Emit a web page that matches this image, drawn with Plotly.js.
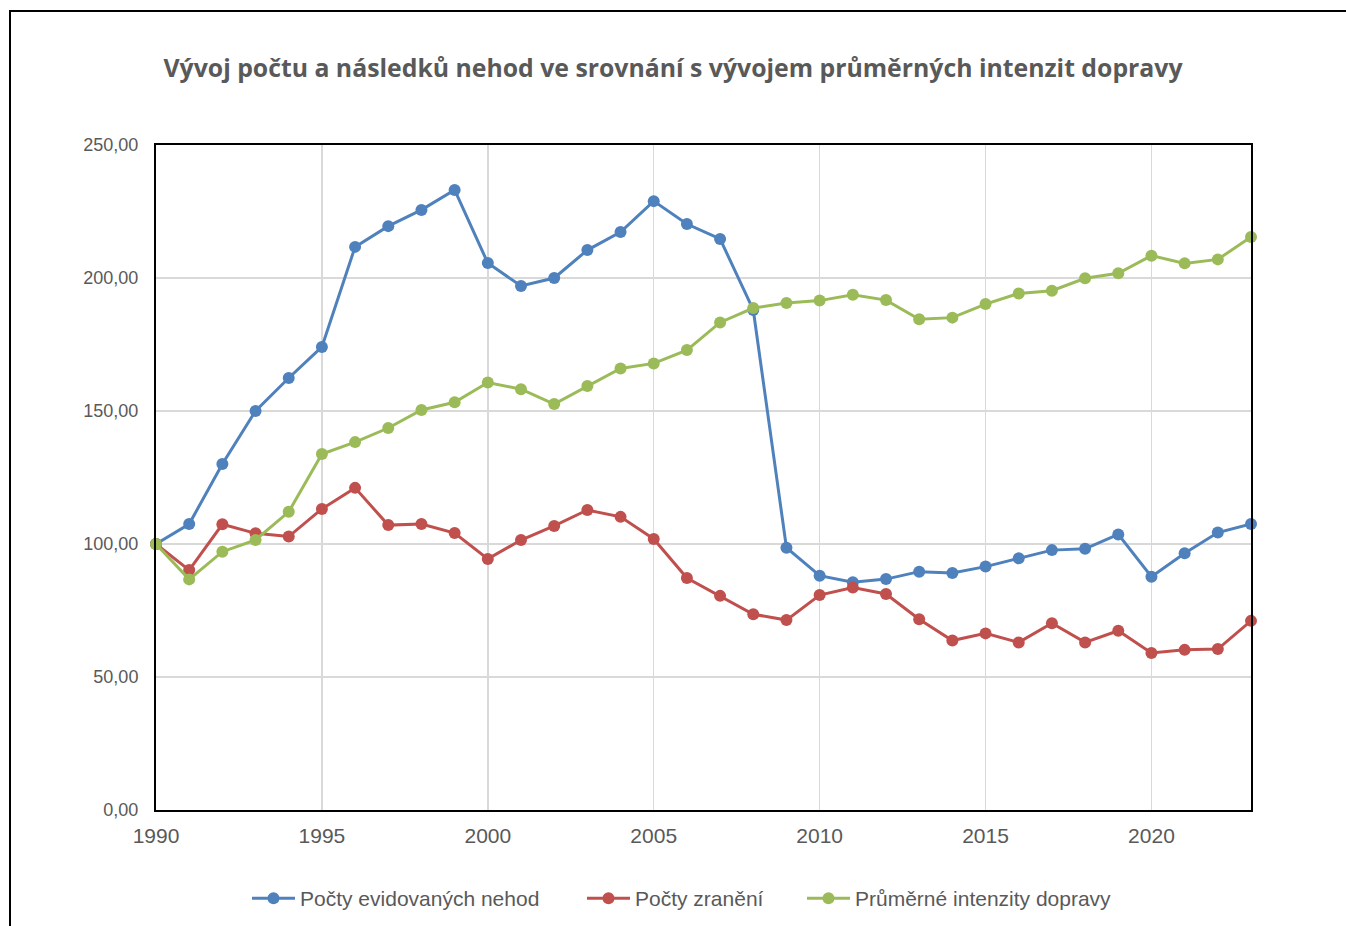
<!DOCTYPE html>
<html>
<head>
<meta charset="utf-8">
<script src="https://cdn.plot.ly/plotly-3.0.1.min.js"></script>
<style>
html,body{margin:0;padding:0;background:#fff;overflow:hidden;}
#chart{position:absolute;left:0;top:0;width:1346px;height:926px;}
#frame{position:absolute;left:9px;top:10px;width:1400px;height:1000px;border:2px solid #000;pointer-events:none;box-sizing:border-box;}
</style>
</head>
<body>
<div id="chart"></div>
<div id="frame"></div>
<script>
const years = [1990,1991,1992,1993,1994,1995,1996,1997,1998,1999,2000,2001,2002,2003,2004,2005,2006,2007,2008,2009,2010,2011,2012,2013,2014,2015,2016,2017,2018,2019,2020,2021,2022,2023];
const nehody = [100,107.5,130.1,150.0,162.4,174.1,211.7,219.5,225.6,233.1,205.6,197.0,200.0,210.5,217.3,228.9,220.3,214.7,188.0,98.6,88.1,85.6,86.8,89.6,89.1,91.5,94.6,97.7,98.2,103.6,87.7,96.5,104.3,107.5];
const zraneni = [100,90.2,107.4,104.0,102.8,113.2,121.1,107.1,107.5,104.1,94.4,101.5,106.8,112.8,110.2,101.9,87.2,80.5,73.6,71.4,80.8,83.6,81.2,71.7,63.7,66.4,63.0,70.2,63.0,67.4,59.0,60.2,60.5,71.1];
const intenzity = [100,86.7,97.1,101.5,112.1,133.8,138.3,143.6,150.4,153.3,160.7,158.2,152.6,159.4,166.0,167.9,172.9,183.3,188.7,190.6,191.5,193.7,191.7,184.5,185.1,190.2,194.2,195.2,199.9,201.8,208.4,205.5,207.0,215.4];
const names = ['Počty evidovaných nehod','Počty zranění','Průměrné intenzity dopravy'];
const colors = ['#4f81bd','#c0504d','#9bbb59'];
const series = [nehody, zraneni, intenzity];
const legendIds = ['legend','legend2','legend3'];
const legendLeftPx = [253, 588, 808];

const traces = series.map((s,i)=>({
  x: years, y: s, name: names[i], type:'scatter', mode:'lines+markers',
  line:{color:colors[i], width:3},
  marker:{color:colors[i], size:12},
  cliponaxis:false,
  legend: legendIds[i]
}));

const legFont = {family:'Liberation Sans, Arial, sans-serif', size:21, color:'#595959'};
function leg(px){
  return {orientation:'h', x:(px-6)/1346, xref:'container', xanchor:'left',
    y:1-878/926, yref:'container', yanchor:'top', font:legFont, itemwidth:43, bgcolor:'rgba(0,0,0,0)'};
}

const layout = {
  width:1346, height:926,
  margin:{l:156, r:95, t:145, b:116},
  paper_bgcolor:'#fff', plot_bgcolor:'#fff',
  separators:',.',
  title:{text:'<b>Vývoj počtu a následků nehod ve srovnání s vývojem průměrných intenzit dopravy</b>',
    font:{family:'Open Sans, sans-serif', size:24.8, color:'#595959'},
    x:0.5, xanchor:'center', xref:'container', y:1-68/926, yanchor:'middle', yref:'container'},
  xaxis:{range:[1990,2023], tick0:1990, dtick:5, showgrid:true, gridcolor:'#d9d9d9', gridwidth:1.5,
    showline:true, linecolor:'#000', linewidth:2, mirror:true, zeroline:false, ticks:'',
    ticklabelstandoff:6, automargin:false,
    tickfont:{family:'Liberation Sans, Arial, sans-serif', size:21, color:'#595959'}},
  yaxis:{range:[0,250], dtick:50, tickformat:'.2f', showgrid:true, gridcolor:'#d9d9d9', gridwidth:1.5,
    showline:true, linecolor:'#000', linewidth:2, mirror:true, zeroline:false, ticks:'',
    ticklabelstandoff:12, automargin:false,
    tickfont:{family:'Liberation Sans, Arial, sans-serif', size:18, color:'#595959'}},
  legend: leg(legendLeftPx[0]),
  legend2: leg(legendLeftPx[1]),
  legend3: leg(legendLeftPx[2]),
  showlegend:true
};
Plotly.newPlot('chart', traces, layout, {displayModeBar:false, staticPlot:true});
</script>
</body>
</html>
